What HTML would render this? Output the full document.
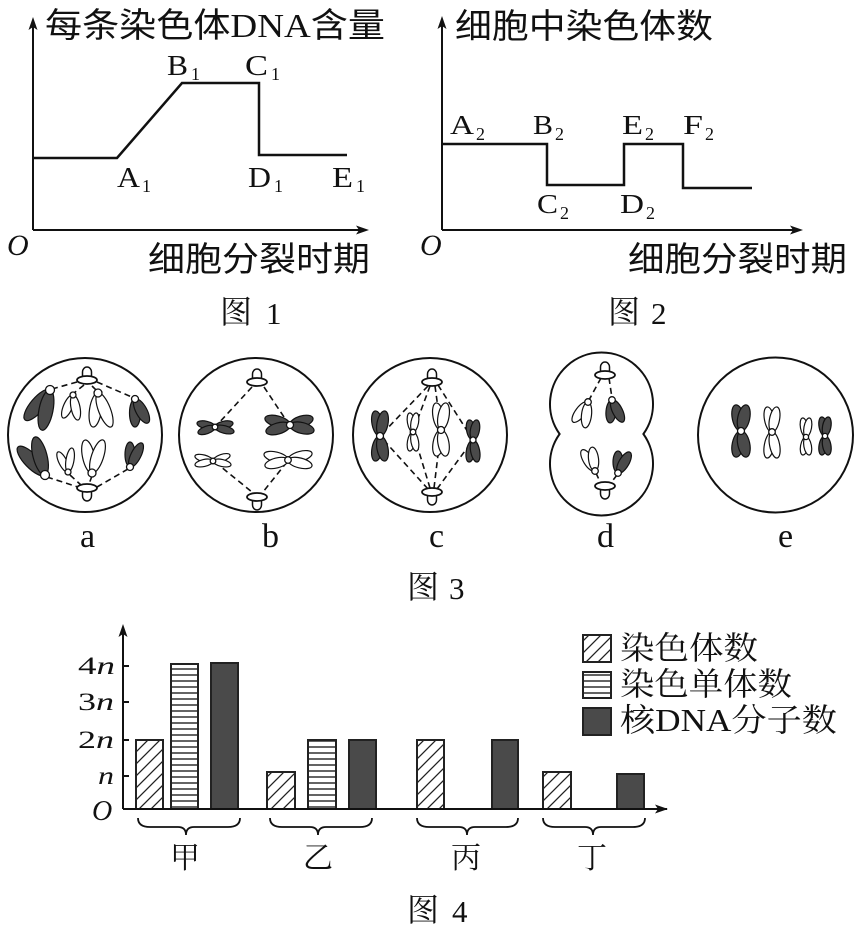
<!DOCTYPE html>
<html>
<head>
<meta charset="utf-8">
<style>
html,body{margin:0;padding:0;background:#fff;}
svg{display:block;}
.ax{fill:none;stroke:#111;stroke-width:2;}
.cv{fill:none;stroke:#111;stroke-width:2.5;stroke-linejoin:miter;}
.o{fill:none;stroke:#111;stroke-width:2;}
.k{fill:#4a4a4a;stroke:#111;stroke-width:1.2;}
.w{fill:#fff;stroke:#111;stroke-width:1.2;}
.ds{fill:none;stroke:#111;stroke-width:1.6;stroke-dasharray:6 4;}
.cm{fill:#fff;stroke:#111;stroke-width:1.3;}
.sans{font-family:"Liberation Sans","Noto Sans CJK SC",sans-serif;}
.serif{font-family:"Liberation Serif","Noto Serif CJK SC",serif;}
.lab{font-family:"Liberation Serif",serif;fill:#111;}
</style>
</head>
<body>
<svg width="863" height="931" viewBox="0 0 863 931" xmlns="http://www.w3.org/2000/svg">
<defs>
  <g id="cst">
    <path d="M-4.5 -3 V-8 A4.5 5 0 0 1 4.5 -8 V-3 Z" fill="#fff" stroke="#111" stroke-width="1.5"/>
    <ellipse rx="10" ry="4" fill="#fff" stroke="#111" stroke-width="1.8"/>
  </g>
  <pattern id="hatch" patternUnits="userSpaceOnUse" width="12" height="12">
    <path d="M-3 3 L3 -3 M0 12 L12 0 M9 15 L15 9" stroke="#222" stroke-width="1.3"/>
  </pattern>
  <pattern id="stripe" patternUnits="userSpaceOnUse" width="10" height="6">
    <path d="M0 3 H10" stroke="#222" stroke-width="1.4"/>
  </pattern>
</defs>
<rect width="863" height="931" fill="#fff"/>

<!-- ================= Figure 1 ================= -->
<path class="ax" d="M33 230 V26 M33 230 H362"/>
<path d="M33 17 L28.5 30 L33 27 L37.5 30 Z" fill="#111"/>
<path d="M369 230 L356 225.5 L359 230 L356 234.5 Z" fill="#111"/>
<path class="cv" d="M33 158 H117 L182 83 H259 V155 H347"/>
<text x="45" y="37" font-size="34" textLength="340" lengthAdjust="spacingAndGlyphs" class="sans" fill="#111">每条染色体<tspan font-family="Liberation Serif">DNA</tspan>含量</text>
<text class="lab" x="167" y="75" font-size="28" textLength="21" lengthAdjust="spacingAndGlyphs">B</text><text class="lab" x="191" y="80" font-size="18">1</text>
<text class="lab" x="245" y="75" font-size="28" textLength="23" lengthAdjust="spacingAndGlyphs">C</text><text class="lab" x="271" y="80" font-size="18">1</text>
<text class="lab" x="117" y="187" font-size="28" textLength="23" lengthAdjust="spacingAndGlyphs">A</text><text class="lab" x="142" y="192" font-size="18">1</text>
<text class="lab" x="248" y="187" font-size="28" textLength="23" lengthAdjust="spacingAndGlyphs">D</text><text class="lab" x="274" y="192" font-size="18">1</text>
<text class="lab" x="332" y="187" font-size="28" textLength="21" lengthAdjust="spacingAndGlyphs">E</text><text class="lab" x="356" y="192" font-size="18">1</text>
<text class="lab" x="7" y="255" font-size="30" font-style="italic">O</text>
<text x="148" y="271" font-size="34" textLength="222" lengthAdjust="spacingAndGlyphs" class="sans" fill="#111">细胞分裂时期</text>
<text x="220" y="323" font-size="32" class="serif" fill="#111">图</text>
<text class="lab" x="266" y="324" font-size="31">1</text>

<!-- ================= Figure 2 ================= -->
<path class="ax" d="M442 230 V25 M442 230 H796"/>
<path d="M442 16 L437.5 29 L442 26 L446.5 29 Z" fill="#111"/>
<path d="M803 230 L790 225.5 L793 230 L790 234.5 Z" fill="#111"/>
<path class="cv" d="M442 144 H547 V185 H624 V144 H683 V188 H752"/>
<text x="455" y="38" font-size="34" textLength="258" lengthAdjust="spacingAndGlyphs" class="sans" fill="#111">细胞中染色体数</text>
<text class="lab" x="450" y="134" font-size="27" textLength="24" lengthAdjust="spacingAndGlyphs">A</text><text class="lab" x="476" y="140" font-size="18">2</text>
<text class="lab" x="533" y="134" font-size="27" textLength="20" lengthAdjust="spacingAndGlyphs">B</text><text class="lab" x="555" y="140" font-size="18">2</text>
<text class="lab" x="622" y="134" font-size="27" textLength="21" lengthAdjust="spacingAndGlyphs">E</text><text class="lab" x="645" y="140" font-size="18">2</text>
<text class="lab" x="683" y="134" font-size="27" textLength="20" lengthAdjust="spacingAndGlyphs">F</text><text class="lab" x="705" y="140" font-size="18">2</text>
<text class="lab" x="537" y="213" font-size="27" textLength="21" lengthAdjust="spacingAndGlyphs">C</text><text class="lab" x="560" y="219" font-size="18">2</text>
<text class="lab" x="620" y="213" font-size="27" textLength="24" lengthAdjust="spacingAndGlyphs">D</text><text class="lab" x="646" y="219" font-size="18">2</text>
<text class="lab" x="420" y="255" font-size="30" font-style="italic">O</text>
<text x="628" y="271" font-size="34" textLength="219" lengthAdjust="spacingAndGlyphs" class="sans" fill="#111">细胞分裂时期</text>
<text x="608" y="323" font-size="32" class="serif" fill="#111">图</text>
<text class="lab" x="651" y="324" font-size="31">2</text>

<!-- ================= Figure 3 ================= -->
<!-- cell a -->
<circle cx="85" cy="435" r="77" class="o"/>
<path class="ds" d="M77 382 L52 389 M97 382 L134 398 M84 385 L74 393 M92 386 L97 391 M47 477 L78 487 M128 469 L97 487 M70 475 L81 485 M92 476 L89 484"/>
<ellipse class="k" cx="19.5" rx="19.5" ry="7" transform="translate(50 390) rotate(129.8)"/>
<ellipse class="k" cx="20.5" rx="20.5" ry="7" transform="translate(50 390) rotate(101.3)"/>
<ellipse class="w" cx="12.5" rx="12.5" ry="4.5" transform="translate(73 395) rotate(113.5)"/>
<ellipse class="w" cx="12.75" rx="12.75" ry="4.5" transform="translate(73 395) rotate(78.7)"/>
<ellipse class="w" cx="17.2" rx="17.2" ry="6" transform="translate(98 393) rotate(98.4)"/>
<ellipse class="w" cx="18.2" rx="18.2" ry="6" transform="translate(98 393) rotate(69)"/>
<ellipse class="k" cx="14" rx="14" ry="5.5" transform="translate(135 399) rotate(90)"/>
<ellipse class="k" cx="13.65" rx="13.65" ry="5.5" transform="translate(135 399) rotate(61.6)"/>
<ellipse class="k" cx="19.45" rx="19.45" ry="7" transform="translate(45 475) rotate(-133.9)"/>
<ellipse class="k" cx="19.65" rx="19.65" ry="7" transform="translate(45 475) rotate(-104.7)"/>
<ellipse class="w" cx="11.2" rx="11.2" ry="4" transform="translate(68 472) rotate(-116.6)"/>
<ellipse class="w" cx="12.15" rx="12.15" ry="4" transform="translate(68 472) rotate(-80.5)"/>
<ellipse class="w" cx="16.85" rx="16.85" ry="6" transform="translate(92 473) rotate(-102)"/>
<ellipse class="w" cx="17.4" rx="17.4" ry="6" transform="translate(92 473) rotate(-71.6)"/>
<ellipse class="k" cx="12.5" rx="12.5" ry="5" transform="translate(130 467) rotate(-90)"/>
<ellipse class="k" cx="13.4" rx="13.4" ry="5" transform="translate(130 467) rotate(-63.4)"/>
<circle class="cm" cx="50" cy="390" r="4.5"/>
<circle class="cm" cx="73" cy="395" r="3"/>
<circle class="cm" cx="98" cy="393" r="4"/>
<circle class="cm" cx="135" cy="399" r="3.5"/>
<circle class="cm" cx="45" cy="475" r="4.5"/>
<circle class="cm" cx="68" cy="472" r="3"/>
<circle class="cm" cx="92" cy="473" r="4"/>
<circle class="cm" cx="130" cy="467" r="3.5"/>
<use href="#cst" transform="translate(87 380)"/>
<use href="#cst" transform="translate(87 488) scale(1 -1)"/>
<text class="lab" x="80" y="547" font-size="34">a</text>

<!-- cell b -->
<circle cx="256" cy="435" r="77" class="o"/>
<path class="ds" d="M252 387 L217 425 M264 387 L288 423 M215 462 L252 492 M287 462 L263 492"/>
<ellipse class="k" cx="9.2" rx="9.2" ry="3.8" transform="translate(215 427) rotate(-167.5)"/>
<ellipse class="k" cx="9" rx="9" ry="3.8" transform="translate(215 427) rotate(160.6)"/>
<ellipse class="k" cx="9.2" rx="9.2" ry="3.8" transform="translate(215 427) rotate(-12.5)"/>
<ellipse class="k" cx="9.8" rx="9.8" ry="3.8" transform="translate(215 427) rotate(14.7)"/>
<ellipse class="k" cx="13" rx="13" ry="5.5" transform="translate(290 425) rotate(-164.4)"/>
<ellipse class="k" cx="12.5" rx="12.5" ry="5.5" transform="translate(290 425) rotate(163.7)"/>
<ellipse class="k" cx="12" rx="12" ry="5.5" transform="translate(290 425) rotate(-16.9)"/>
<ellipse class="k" cx="12.35" rx="12.35" ry="5.5" transform="translate(290 425) rotate(14)"/>
<ellipse class="w" cx="9.35" rx="9.35" ry="3.5" transform="translate(213 461) rotate(-164.5)"/>
<ellipse class="w" cx="9.2" rx="9.2" ry="3.5" transform="translate(213 461) rotate(167.5)"/>
<ellipse class="w" cx="9" rx="9" ry="3.5" transform="translate(213 461) rotate(-19.4)"/>
<ellipse class="w" cx="9.2" rx="9.2" ry="3.5" transform="translate(213 461) rotate(12.5)"/>
<ellipse class="w" cx="12.35" rx="12.35" ry="5" transform="translate(288 460) rotate(-166)"/>
<ellipse class="w" cx="11.9" rx="11.9" ry="5" transform="translate(288 460) rotate(165.4)"/>
<ellipse class="w" cx="12.5" rx="12.5" ry="5" transform="translate(288 460) rotate(-16.3)"/>
<ellipse class="w" cx="12.35" rx="12.35" ry="5" transform="translate(288 460) rotate(14)"/>
<circle class="cm" cx="215" cy="427" r="2.8"/>
<circle class="cm" cx="290" cy="425" r="3.5"/>
<circle class="cm" cx="213" cy="461" r="2.8"/>
<circle class="cm" cx="288" cy="460" r="3.3"/>
<use href="#cst" transform="translate(257 382)"/>
<use href="#cst" transform="translate(257 497) scale(1 -1)"/>
<text class="lab" x="262" y="547" font-size="34">b</text>

<!-- cell c -->
<circle cx="430" cy="435" r="77" class="o"/>
<path class="ds" d="M428 386 L380 436 M430 386 L413 432 M435 386 L441 430 M438 385 L473 440 M428 489 L380 436 M430 488 L413 432 M434 488 L441 430 M437 489 L473 440"/>
<ellipse class="k" cx="12.75" rx="12.75" ry="5.5" transform="translate(380 436) rotate(-101.3)"/>
<ellipse class="k" cx="12.75" rx="12.75" ry="5.5" transform="translate(380 436) rotate(-78.7)"/>
<ellipse class="k" cx="12.75" rx="12.75" ry="5.5" transform="translate(380 436) rotate(101.3)"/>
<ellipse class="k" cx="12.75" rx="12.75" ry="5.5" transform="translate(380 436) rotate(78.7)"/>
<ellipse class="w" cx="9.65" rx="9.65" ry="3.8" transform="translate(413 432) rotate(-100.4)"/>
<ellipse class="w" cx="9.65" rx="9.65" ry="3.8" transform="translate(413 432) rotate(-79.6)"/>
<ellipse class="w" cx="9.65" rx="9.65" ry="3.8" transform="translate(413 432) rotate(100.4)"/>
<ellipse class="w" cx="9.65" rx="9.65" ry="3.8" transform="translate(413 432) rotate(79.6)"/>
<ellipse class="w" cx="13.75" rx="13.75" ry="5.5" transform="translate(441 430) rotate(-100.5)"/>
<ellipse class="w" cx="13.75" rx="13.75" ry="5.5" transform="translate(441 430) rotate(-79.5)"/>
<ellipse class="w" cx="13.25" rx="13.25" ry="5.5" transform="translate(441 430) rotate(100.5)"/>
<ellipse class="w" cx="13.25" rx="13.25" ry="5.5" transform="translate(441 430) rotate(79.5)"/>
<ellipse class="k" cx="10.2" rx="10.2" ry="4.5" transform="translate(473 440) rotate(-101)"/>
<ellipse class="k" cx="10.2" rx="10.2" ry="4.5" transform="translate(473 440) rotate(-79)"/>
<ellipse class="k" cx="11.2" rx="11.2" ry="4.5" transform="translate(473 440) rotate(101)"/>
<ellipse class="k" cx="11.2" rx="11.2" ry="4.5" transform="translate(473 440) rotate(79)"/>
<circle class="cm" cx="380" cy="436" r="3.5"/>
<circle class="cm" cx="413" cy="432" r="2.8"/>
<circle class="cm" cx="441" cy="430" r="3.5"/>
<circle class="cm" cx="473" cy="440" r="3"/>
<use href="#cst" transform="translate(432 382)"/>
<use href="#cst" transform="translate(432 492) scale(1 -1)"/>
<text class="lab" x="429" y="547" font-size="34">c</text>

<!-- cell d -->
<path class="o" d="M559.6 434 A51.5 51.5 0 1 1 643.4 434 A51.5 51.5 0 1 1 559.6 434 Z"/>
<path class="ds" d="M601 378 L589 400 M609 378 L612 398 M596 473 L601 484 M617 475 L610 484"/>
<ellipse class="w" cx="12.5" rx="12.5" ry="5" transform="translate(588 402) rotate(127)"/>
<ellipse class="w" cx="13" rx="13" ry="5" transform="translate(588 402) rotate(96.6)"/>
<ellipse class="k" cx="11.5" rx="11.5" ry="5" transform="translate(612 400) rotate(95)"/>
<ellipse class="k" cx="12.3" rx="12.3" ry="5" transform="translate(612 400) rotate(63.4)"/>
<ellipse class="w" cx="12.35" rx="12.35" ry="5" transform="translate(595 471) rotate(-121.8)"/>
<ellipse class="w" cx="12" rx="12" ry="5" transform="translate(595 471) rotate(-97)"/>
<ellipse class="k" cx="11" rx="11" ry="5" transform="translate(618 473) rotate(-90)"/>
<ellipse class="k" cx="12" rx="12" ry="5" transform="translate(618 473) rotate(-60)"/>
<circle class="cm" cx="588" cy="402" r="3.3"/>
<circle class="cm" cx="612" cy="400" r="3.3"/>
<circle class="cm" cx="595" cy="471" r="3.3"/>
<circle class="cm" cx="618" cy="473" r="3.3"/>
<use href="#cst" transform="translate(605 375)"/>
<use href="#cst" transform="translate(605 486) scale(1 -1)"/>
<text class="lab" x="597" y="547" font-size="34">d</text>

<!-- cell e -->
<circle cx="775.5" cy="435" r="77.5" class="o"/>
<ellipse class="k" cx="13.3" rx="13.3" ry="6" transform="translate(741 431) rotate(-101.9)"/>
<ellipse class="k" cx="13.3" rx="13.3" ry="6" transform="translate(741 431) rotate(-78.1)"/>
<ellipse class="k" cx="13.3" rx="13.3" ry="6" transform="translate(741 431) rotate(101.9)"/>
<ellipse class="k" cx="13.3" rx="13.3" ry="6" transform="translate(741 431) rotate(78.1)"/>
<ellipse class="w" cx="12.75" rx="12.75" ry="5" transform="translate(772 432) rotate(-101.3)"/>
<ellipse class="w" cx="12.75" rx="12.75" ry="5" transform="translate(772 432) rotate(-78.7)"/>
<ellipse class="w" cx="13.25" rx="13.25" ry="5" transform="translate(772 432) rotate(101.3)"/>
<ellipse class="w" cx="13.25" rx="13.25" ry="5" transform="translate(772 432) rotate(78.7)"/>
<ellipse class="w" cx="9.65" rx="9.65" ry="3.8" transform="translate(806 437) rotate(-100.4)"/>
<ellipse class="w" cx="9.65" rx="9.65" ry="3.8" transform="translate(806 437) rotate(-79.6)"/>
<ellipse class="w" cx="9.15" rx="9.15" ry="3.8" transform="translate(806 437) rotate(100.4)"/>
<ellipse class="w" cx="9.15" rx="9.15" ry="3.8" transform="translate(806 437) rotate(79.6)"/>
<ellipse class="k" cx="9.65" rx="9.65" ry="4.2" transform="translate(825 436) rotate(-100.4)"/>
<ellipse class="k" cx="9.65" rx="9.65" ry="4.2" transform="translate(825 436) rotate(-79.6)"/>
<ellipse class="k" cx="9.65" rx="9.65" ry="4.2" transform="translate(825 436) rotate(100.4)"/>
<ellipse class="k" cx="9.65" rx="9.65" ry="4.2" transform="translate(825 436) rotate(79.6)"/>
<circle class="cm" cx="741" cy="431" r="3.5"/>
<circle class="cm" cx="772" cy="432" r="3.3"/>
<circle class="cm" cx="806" cy="437" r="2.6"/>
<circle class="cm" cx="825" cy="436" r="2.6"/>
<text class="lab" x="778" y="547" font-size="34">e</text>

<text x="407" y="598" font-size="32" class="serif" fill="#111">图</text>
<text class="lab" x="449" y="599" font-size="31">3</text>

<!-- ================= Figure 4 ================= -->
<path class="ax" d="M123 809 V632 M123 809 H660"/>
<path d="M123 624 L118.5 637 L123 634 L127.5 637 Z" fill="#111"/>
<path d="M668 809 L655 804.5 L658 809 L655 813.5 Z" fill="#111"/>
<path class="ax" d="M123 666 H129 M123 702 H129 M123 740 H129 M123 776 H129"/>
<text class="lab" x="78" y="674" font-size="25" textLength="37" lengthAdjust="spacingAndGlyphs">4<tspan font-style="italic">n</tspan></text>
<text class="lab" x="78" y="710" font-size="25" textLength="36" lengthAdjust="spacingAndGlyphs">3<tspan font-style="italic">n</tspan></text>
<text class="lab" x="78" y="748" font-size="25" textLength="36" lengthAdjust="spacingAndGlyphs">2<tspan font-style="italic">n</tspan></text>
<text class="lab" x="98" y="784" font-size="25" textLength="16" lengthAdjust="spacingAndGlyphs" font-style="italic">n</text>
<text class="lab" x="92" y="820" font-size="28" font-style="italic">O</text>

<g stroke="#222" stroke-width="2">
  <rect x="136" y="740" width="27" height="69" fill="url(#hatch)"/>
  <rect x="171" y="664" width="27" height="145" fill="url(#stripe)"/>
  <rect x="211" y="663" width="27" height="146" fill="#4a4a4a"/>
  <rect x="267" y="772" width="28" height="37" fill="url(#hatch)"/>
  <rect x="308" y="740" width="28" height="69" fill="url(#stripe)"/>
  <rect x="349" y="740" width="27" height="69" fill="#4a4a4a"/>
  <rect x="417" y="740" width="27" height="69" fill="url(#hatch)"/>
  <rect x="492" y="740" width="26" height="69" fill="#4a4a4a"/>
  <rect x="543" y="772" width="28" height="37" fill="url(#hatch)"/>
  <rect x="617" y="774" width="27" height="35" fill="#4a4a4a"/>
  <rect x="583" y="635" width="28" height="27" fill="url(#hatch)"/>
  <rect x="583" y="672" width="28" height="26" fill="url(#stripe)"/>
  <rect x="583" y="708" width="28" height="27" fill="#4a4a4a"/>
</g>
<path class="ax" d="M123 809 H667"/>

<!-- braces -->
<g fill="none" stroke="#111" stroke-width="1.8">
  <path d="M138 818 Q138 827 150 827 L178 827 Q186 827 186 835 Q186 827 194 827 L228 827 Q240 827 240 818"/>
  <path d="M270 818 Q270 827 282 827 L310 827 Q318 827 318 835 Q318 827 326 827 L360 827 Q372 827 372 818"/>
  <path d="M417 818 Q417 827 429 827 L459 827 Q467 827 467 835 Q467 827 475 827 L506 827 Q518 827 518 818"/>
  <path d="M543 818 Q543 827 555 827 L585 827 Q593 827 593 835 Q593 827 601 827 L633 827 Q645 827 645 818"/>
</g>
<g class="serif" font-size="30" fill="#111" text-anchor="middle">
  <text x="185" y="868">甲</text>
  <text x="318" y="868">乙</text>
  <text x="466" y="868">丙</text>
  <text x="592" y="868">丁</text>
</g>

<text x="620" y="659" font-size="32" textLength="138" lengthAdjust="spacingAndGlyphs" class="serif" fill="#111">染色体数</text>
<text x="620" y="695" font-size="32" textLength="172" lengthAdjust="spacingAndGlyphs" class="serif" fill="#111">染色单体数</text>
<text x="620" y="731" font-size="32" textLength="217" lengthAdjust="spacingAndGlyphs" class="serif" fill="#111">核<tspan font-family="Liberation Serif">DNA</tspan>分子数</text>

<text x="407" y="921" font-size="32" class="serif" fill="#111">图</text>
<text class="lab" x="452" y="922" font-size="31">4</text>
</svg>
</body>
</html>
